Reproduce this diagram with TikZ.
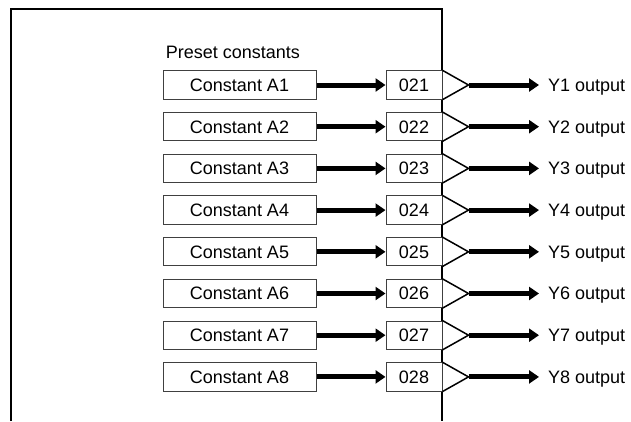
\documentclass[tikz,border=0pt]{standalone}
\usepackage{fontspec}
\setmainfont{Liberation Sans}
\usetikzlibrary{arrows.meta}
\begin{document}
\begin{tikzpicture}[x=1pt,y=-1pt,
  every node/.style={font=\fontsize{18}{21}\selectfont},
  constbox/.style={draw=black!75,line width=1pt,minimum width=153pt,minimum height=28.3pt,inner sep=0pt,fill=white,text height=12.9pt,text depth=0pt},
  numbox/.style={draw=black!75,line width=1pt,minimum width=56pt,minimum height=28.3pt,inner sep=0pt,fill=white,text height=12.9pt,text depth=0pt},
  outlabel/.style={anchor=west,inner xsep=9pt,inner ysep=0pt,text height=12.9pt,text depth=0pt},
  thickarrow/.style={line width=5pt,-{Triangle[length=10pt,width=13pt]}},
  frameline/.style={line width=2pt},
  buffer/.style={line width=1.5pt,line join=miter}
]
\useasboundingbox (0,0) rectangle (631,421);
% frame
\coordinate (fbl) at (11,421);
\coordinate (ftl) at (11,8.5);
\coordinate (ftr) at (442,8.5);
\coordinate (fbr) at (442,421);
\draw[frameline] (fbl) -- (ftl) -- (ftr) -- (fbr);
\node[anchor=base west,inner sep=0pt] (title) at (165.7,58) {Preset constants};
\foreach \i in {1,...,8}{
  \pgfmathsetmacro{\yy}{85+(\i-1)*41.7}
  \node[constbox] (c\i) at (239.5,\yy) {Constant A\i};
  \node[numbox] (n\i) at (414,\yy) {02\i};
  \coordinate (a\i) at (468.5,\yy);
  \draw[buffer] (n\i.north east) -- (a\i) -- (n\i.south east);
  \node[outlabel] (o\i) at (539,\yy) {Y\i{} output};
  \draw[thickarrow] (c\i.east) -- (n\i.west);
  \draw[thickarrow] (a\i) -- (o\i.west);
}
\end{tikzpicture}
\end{document}
